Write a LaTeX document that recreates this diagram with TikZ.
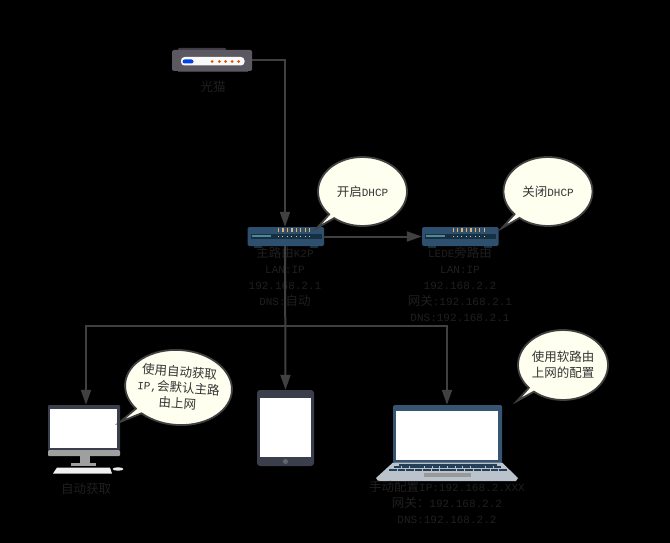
\documentclass[tikz,border=0pt]{standalone}
\usepackage{fontspec}
\setmainfont{Liberation Mono}
\newfontfamily\cjkfont{Noto Sans CJK SC}
\newcommand{\cn}[1]{{\cjkfont\fontsize{12.5}{16}\selectfont #1}}
\usetikzlibrary{arrows.meta,shapes.callouts,shapes.geometric}
\definecolor{linec}{HTML}{404040}
\definecolor{labelc}{HTML}{1F1F1F}
\definecolor{bubfill}{HTML}{FFFFF0}
\definecolor{routerc}{HTML}{2F4F6F}
\definecolor{routerd}{HTML}{153040}
\definecolor{routers}{HTML}{4F8A94}
\definecolor{routerl}{HTML}{E0B070}
\definecolor{slate}{HTML}{3A3F4B}
\definecolor{modemb}{HTML}{5C5862}
\definecolor{modemt}{HTML}{3F3C46}
\definecolor{lapbase}{HTML}{BAC3CB}
\tikzset{
  conn/.style={draw=linec,line width=2pt,-{Triangle[length=15pt,width=10pt]}},
  lbl/.style={text=labelc,align=center,inner sep=0pt,font=\fontsize{11}{16}\selectfont},
  bub/.style={ellipse callout,draw=linec,line width=1.8pt,fill=bubfill,text=black!80,align=center,inner sep=0pt,
    callout pointer arc=9,font=\fontsize{11}{16}\selectfont},
  bubtext/.style={text=black!80,align=center,inner sep=0pt,font=\fontsize{11}{16}\selectfont},
  dev/.style={inner sep=0pt,minimum width=#1},
  devh/.style={minimum height=#1},
}
\newcommand{\routerart}[1]{%
  \begin{scope}[shift={(#1,0)}]
    \fill[routerd] (6,245) rectangle (14,247.5);
    \fill[routerd] (62,245) rectangle (70,247.5);
    \fill[routerc,rounded corners=1.5pt] (0,227) rectangle (76.5,246);
    \fill[routerd] (3,234) rectangle (74,238.5);
    \fill[routers] (4,235) rectangle (23,237);
    \foreach \k in {0,...,7} {
      \fill[routerl] (30.5+\k*4.45,228) rectangle (31.7+\k*4.45,231.5);
      \fill[white!70!routerc] (30.5+\k*4.45,235.7) rectangle (31.5+\k*4.45,236.9);
    }
  \end{scope}}
\begin{document}
\begin{tikzpicture}[x=1pt,y=-1pt]
\useasboundingbox (0,0) rectangle (670,543);
\fill[black] (0,0) rectangle (670,543);

% ---- devices
\node[dev=80,devh=21] (modem) at (212,60.5) {};
\fill[modemt,rounded corners=1pt] (178,48) rectangle (226,52);
\fill[modemt] (178,69) rectangle (248,72.5);
\fill[modemb,rounded corners=1.5pt] (172,50) rectangle (252,71);
\fill[white!95!gray,rounded corners=3.5pt] (181,57) rectangle (244.5,65.5);
\fill[blue!70!cyan!90!black,rounded corners=2pt] (182.5,59.5) rectangle (193.5,63.5);
\foreach \px in {212,219.3,225.7,232,238.7} \fill[orange!80!red!85!black] (\px,61.5) circle (1.5);

\node[dev=76,devh=19] (mainr) at (285,236.5) {};
\routerart{247.5}
\node[dev=76,devh=19] (sider) at (460,236.5) {};
\routerart{422}

% desktop
\node[dev=76,devh=70] (desktop) at (86,440) {};
\fill[slate,rounded corners=1pt] (48,405) rectangle (120,450);
\fill[white] (50,409) rectangle (117,447.5);
\fill[gray!75,rounded corners=1pt] (48,450) rectangle (120,456);
\fill[gray!75] (80,456) rectangle (90,463);
\fill[gray!75] (71,463) rectangle (96,465.5);
\fill[white!88!gray] (57,467.5) -- (110,467.5) -- (112,473.5) -- (53,473.5) -- cycle;
\fill[white!85!gray] (118,469) ellipse (5.5 and 1.7);

% tablet
\node[dev=57,devh=76] (tablet) at (285.5,428) {};
\fill[slate,rounded corners=3pt] (257,390) rectangle (314,466);
\fill[white] (260,398) rectangle (311,457);
\fill[gray!60!slate] (285.5,461.5) circle (2.5);

% laptop
\node[dev=142,devh=76] (laptop) at (447,443) {};
\fill[routerc!90!gray,rounded corners=1.5pt] (393,405) rectangle (502,463);
\fill[white] (396,411) rectangle (498,459.5);
\fill[lapbase] (393,462.5) -- (502,462.5) -- (518,478) -- (516,481) -- (378,481) -- (376,478) -- cycle;
\foreach \ry/\xa/\xb in {463.5/399/497,466.3/394/501,469.1/389/507} {
  \foreach \k in {0,...,13} {
    \fill[routerc!80!black] ({\xa+(\xb-\xa)*\k/14+0.4},\ry) rectangle ({\xa+(\xb-\xa)*(\k+1)/14-0.4},\ry+2);
  }
}
\fill[gray!80] (424,472.5) rectangle (471,477);

% ---- labels
\node[lbl] (modemlbl) at (213,87) {\cn{光猫}};
\node[lbl,anchor=north] (mainlbl) at (285,246.5) {\cn{主路由}K2P\\LAN:IP\\192.168.2.1\\DNS:\cn{自动}};
\node[lbl,anchor=north] (sidelbl) at (460,246.5) {LEDE\cn{旁路由}\\LAN:IP\\192.168.2.2\\\cn{网关}:192.168.2.1\\DNS:192.168.2.1};
\node[lbl] (desklbl) at (86,489) {\cn{自动获取}};
\node[lbl,anchor=north] (laplbl) at (447,480.5) {\cn{手动配置}IP:192.168.2.XXX\\\cn{网关：}192.168.2.2\\DNS:192.168.2.2};

% ---- connectors
\coordinate (bus) at (285,325.5);
\draw[conn] (modem.east) -| (mainr.north);
\draw[conn] (mainr.east) -- (sider.west);
\draw[conn] (mainr.south) -- (tablet.north);
\draw[conn] (bus) -| (desktop.north);
\draw[conn] (bus) -| (laptop.north);

% ---- bubbles
\node[bub,minimum width=89,minimum height=69,callout absolute pointer={(317,228)}] (b1) at (362.5,191.5) {\cn{开启}DHCP};
\node[bub,minimum width=89,minimum height=69,callout absolute pointer={(502,228)}] (b2) at (548,191.5) {\cn{关闭}DHCP};
\node[bub,minimum width=107,minimum height=75,rotate=-4,callout absolute pointer={(120,422)}] (b3) at (178.5,387.5) {};
\node[bubtext,rotate=-4] (b3text) at (b3.center) {\cn{使用自动获取}\\IP,\cn{会默认主路}\\\cn{由上网}};
\node[bub,minimum width=90,minimum height=70,callout absolute pointer={(517,401)}] (b4) at (563,365) {\cn{使用软路由}\\\cn{上网的配置}};
\end{tikzpicture}
\end{document}
